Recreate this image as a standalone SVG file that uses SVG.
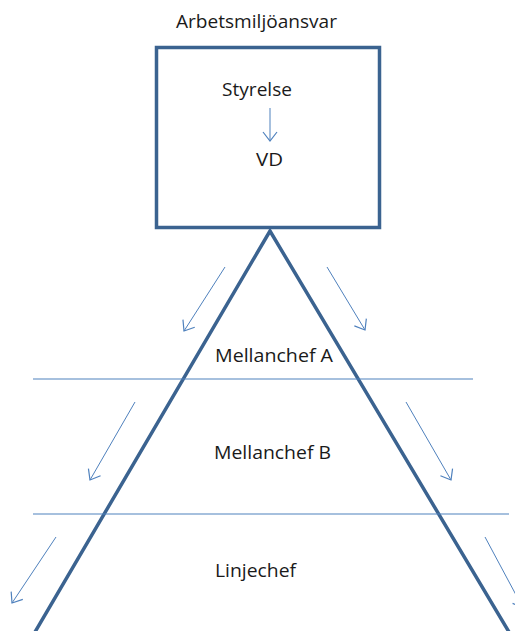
<svg xmlns="http://www.w3.org/2000/svg" width="515" height="631" viewBox="0 0 515 631">
<style>
.t{font-family:"Open Sans","Liberation Sans",sans-serif;font-size:17.5px;fill:#1a1a1a;text-anchor:middle}
.thick{stroke:#3b6390;stroke-width:3.5;fill:none}
.thin{stroke:#4f81bd;stroke-width:1.2;fill:none}
.arr{stroke:#4f81bd;stroke-width:1;fill:none;marker-end:url(#ah)}
</style>
<defs>
<marker id="ah" markerUnits="userSpaceOnUse" markerWidth="20" markerHeight="20" refX="10" refY="10" orient="auto" viewBox="0 0 20 20">
<path d="M1,3 L10,10 L1,17" fill="none" stroke="#4f81bd" stroke-width="1.2"/>
</marker>
</defs>
<g id="title"><text class="t" x="256.5" y="28" textLength="161" lengthAdjust="spacingAndGlyphs">Arbetsmiljöansvar</text></g>
<g id="box">
<rect class="thick" x="156.5" y="47.5" width="223" height="180"/>
<text class="t" x="257" y="96" textLength="70" lengthAdjust="spacingAndGlyphs">Styrelse</text>
<text class="t" x="269.5" y="166" textLength="27" lengthAdjust="spacingAndGlyphs">VD</text>
</g>
<g id="pyramid">
<path class="thick" d="M35,632 L270,231 L509,632"/>
</g>
<g id="levels">
<line class="thin" x1="33" y1="379" x2="473" y2="379"/>
<line class="thin" x1="33" y1="514" x2="509" y2="514"/>
</g>
<g id="mellanchefA"><text class="t" x="274" y="362" textLength="118" lengthAdjust="spacingAndGlyphs">Mellanchef A</text></g>
<g id="mellanchefB"><text class="t" x="272.5" y="459" textLength="117" lengthAdjust="spacingAndGlyphs">Mellanchef B</text></g>
<g id="linjechef"><text class="t" x="255.5" y="577" textLength="81" lengthAdjust="spacingAndGlyphs">Linjechef</text></g>
<g id="connectors">
<line class="arr" x1="270" y1="108" x2="270" y2="141"/>
<line class="arr" x1="225" y1="267" x2="184" y2="331"/>
<line class="arr" x1="327" y1="267" x2="365" y2="330"/>
<line class="arr" x1="135" y1="402" x2="90" y2="480"/>
<line class="arr" x1="406" y1="402" x2="451" y2="480"/>
<line class="arr" x1="56" y1="537" x2="12" y2="603"/>
<line class="arr" x1="485" y1="537" x2="523" y2="608"/>
</g>
</svg>
